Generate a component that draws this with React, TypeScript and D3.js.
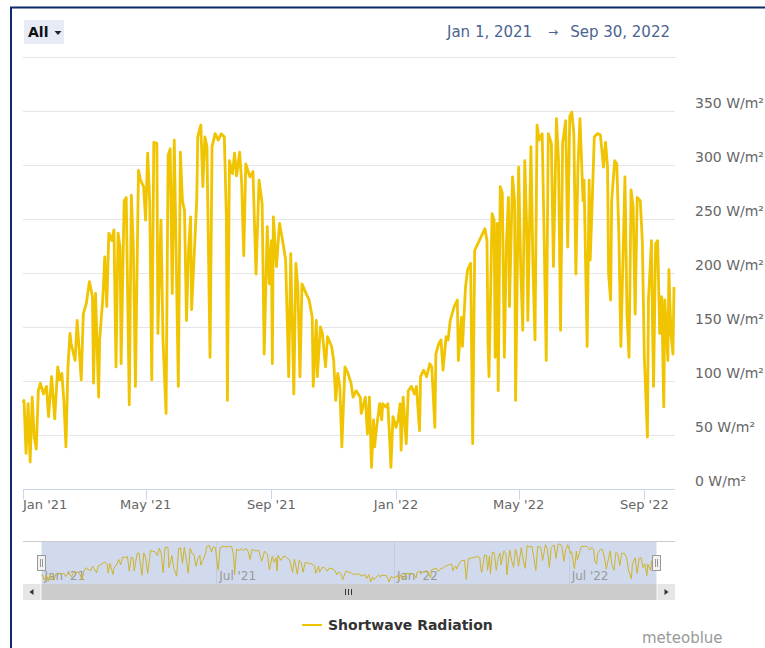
import React from "react";
import * as d3 from "d3";

// ---- data (days since Jan 1, 2021 and daily shortwave radiation, W/m²) ----
const startDate = new Date(2021, 0, 1);
const endDate = new Date(2022, 8, 30);

const dayIndex = [
  0, 1, 3, 5, 7, 9, 11, 13, 15, 17, 20, 23, 25, 28, 31, 34, 36, 38, 40, 42, 44, 46, 47, 51, 53, 57, 59, 62, 65, 68, 69,
  71, 74, 75, 78, 80, 82, 84, 87, 89, 91, 93, 95, 96, 99, 101, 104, 106, 108, 110, 113, 115, 118, 120, 122, 124, 126,
  128, 131, 132, 135, 137, 140, 142, 144, 146, 148, 150, 152, 154, 156, 158, 160, 162, 164, 165, 167, 170, 171, 174,
  176, 178, 180, 183, 185, 188, 191, 194, 197, 199, 200, 202, 205, 207,
  209, 212, 214, 216, 218, 222, 225, 228, 231, 234, 236, 239, 241, 243, 244, 245, 248, 251, 254, 257, 260, 262, 265,
  267, 269, 271, 273, 277, 280, 283, 284, 287, 288, 291, 293, 296, 298, 302, 304, 306, 308, 310, 312, 315, 318, 321,
  323, 326, 330, 331, 335, 337, 339, 341, 343, 344, 346, 349, 351, 352, 355, 357, 359, 360, 362, 365, 367, 369, 370,
  372, 375, 377, 380, 383, 385, 388, 389, 392, 395, 398, 400, 403, 404, 407, 409, 411, 414, 416, 418,
  422, 425, 426, 429, 430, 433, 435, 438, 440, 442, 445, 448, 452, 454, 455, 456, 459, 461, 462, 464, 465, 467, 469,
  471, 473, 475, 476, 479, 481, 482, 485, 487, 489, 491, 493, 494, 497, 499, 501, 503, 505, 508, 510, 512, 514, 517,
  519, 522, 524, 526, 528, 531, 533, 535, 537, 539, 541, 543, 545, 548, 549, 552, 554, 555, 557, 559, 562, 565, 568,
  570, 572, 573, 575, 576, 579, 581, 583, 585, 589, 591, 593, 595, 597, 599, 601, 604, 606, 608, 611, 612, 615, 616,
  617, 619, 621, 623, 625, 627, 628, 631, 632, 634, 636, 637,
];

const radiation = [
  80, 82, 33, 79, 25, 85, 48, 37, 91, 98, 88, 95, 67, 104, 65, 113, 101, 107, 82, 39, 113, 144, 135, 119, 156, 101, 162,
  172, 192, 178, 98, 181, 85, 138, 175, 215, 169, 237, 230, 240, 113, 237, 224, 116, 267, 270, 78, 272, 224, 95, 295,
  286, 280, 249, 311, 267, 101, 321, 320, 144, 249, 138, 70, 309, 315, 181, 323, 209, 95, 312, 267, 258, 156, 221, 252,
  166, 206, 267, 326, 337, 280, 326, 317, 122, 317, 329, 323, 329, 326, 252, 82, 304, 292, 311,
  290, 312, 283, 216, 301, 289, 294, 199, 286, 264, 125, 243, 190, 230, 116, 252, 206, 246, 230, 212, 104, 218, 88,
  209, 187, 104, 190, 181, 175, 159, 95, 156, 104, 150, 144, 113, 141, 132, 119, 82, 107, 95, 39, 113, 107, 98, 85, 91,
  85, 70, 85, 51, 85, 20, 64, 39, 57, 79, 64, 79, 76, 79, 42, 20, 67, 57, 64, 79, 36, 85, 42, 91, 95, 88, 95, 54, 104,
  110, 104, 116, 113, 57, 125, 135, 138, 110, 141, 138, 156,
  169, 175, 119, 159, 132, 187, 203, 209, 42, 221, 227, 233, 241, 230, 135, 104, 255, 249, 122, 246, 91, 280, 274, 122,
  227, 270, 169, 289, 267, 82, 298, 206, 147, 304, 237, 156, 317, 206, 138, 337, 323, 329, 230, 119, 329, 320, 206, 343,
  304, 147, 320, 341, 224, 345, 349, 329, 199, 298, 343, 267, 286, 132, 286, 212, 267, 326, 329, 328, 298, 321, 298,
  199, 175, 267, 304, 301, 237, 132, 289, 162, 122, 277, 261, 162, 270, 267, 230, 122, 48, 175, 230, 150, 95, 227, 230,
  144, 178, 76, 175, 119, 203, 144, 125, 187,
];

const yTicks = [0, 50, 100, 150, 200, 250, 300, 350];
const xTickDates = [
  new Date(2021, 0, 1), new Date(2021, 4, 1), new Date(2021, 8, 1),
  new Date(2022, 0, 1), new Date(2022, 4, 1), new Date(2022, 8, 1),
];
const xTickLabels = ["Jan '21", "May '21", "Sep '21", "Jan '22", "May '22", "Sep '22"];
const navTickDates = [new Date(2021, 0, 1), new Date(2021, 6, 1), new Date(2022, 0, 1), new Date(2022, 6, 1)];
const navTickLabels = ["Jan '21", "Jul '21", "Jan '22", "Jul '22"];
const seriesName = "Shortwave Radiation";
const rangeStart = "Jan 1, 2021";
const rangeEnd = "Sep 30, 2022";

const FONT = "'DejaVu Sans', Verdana, sans-serif";
const LINE_COLOR = "#f0c400";

export default function App() {
  const points = dayIndex.map((d, i) => ({ date: d3.timeDay.offset(startDate, d), value: radiation[i] }));

  const x = d3.scaleTime().domain([startDate, endDate]).range([23, 674]);
  const y = d3.scaleLinear().domain([0, 350]).range([489, 111]);

  const nx = d3.scaleTime().domain([startDate, endDate]).range([41.5, 656.5]);
  const ny = d3.scaleLinear().domain([d3.min(radiation) as number, d3.max(radiation) as number]).range([582, 544]);

  const line = d3.line<{ date: Date; value: number }>().x((p) => x(p.date)).y((p) => y(p.value));
  const navLine = d3.line<{ date: Date; value: number }>().x((p) => nx(p.date)).y((p) => ny(p.value));

  return (
    <div style={{ position: "absolute", left: 0, top: 0 }}>
      <svg width={765} height={648} style={{ display: "block", fontFamily: FONT }}>
        <rect x={0} y={0} width={765} height={648} fill="#ffffff" />

        {/* header */}
        <rect x={24} y={20} width={40} height={24} rx={2} fill="#e6ebf5" />
        <text x={28} y={37} fontSize={14} fontWeight="bold" fill="#111">All</text>
        <path d="M54.5,31 L61.5,31 L58,35 Z" fill="#222" />
        <text x={447} y={36.5} fontSize={15} fill="#4a6491">{rangeStart}</text>
        <text x={553} y={36} fontSize={12} fill="#4a6491" textAnchor="middle">{"\u2192"}</text>
        <text x={670} y={36.5} fontSize={15} fill="#4a6491" textAnchor="end">{rangeEnd}</text>
        <line x1={23} x2={676} y1={57.5} y2={57.5} stroke="#e6e6e6" />

        {/* grid */}
        {yTicks.filter((t) => t > 0).map((t) => (
          <line key={t} x1={23} x2={675} y1={Math.round(y(t)) + 0.5} y2={Math.round(y(t)) + 0.5} stroke="#e6e6e6" />
        ))}
        {yTicks.map((t) => (
          <text key={"yl" + t} x={695} y={y(t) - 3.5} fontSize={14} fill="#666">
            {t + " W/m\u00b2"}
          </text>
        ))}

        {/* x axis */}
        <line x1={23} x2={675} y1={489.5} y2={489.5} stroke="#ccd6eb" />
        {xTickDates.map((d, i) => {
          const px = Math.round(x(d)) + 0.5;
          return (
            <g key={"xt" + i}>
              <line x1={px} x2={px} y1={489.5} y2={499.5} stroke="#ccd6eb" />
              <text x={i === 0 ? 23 : x(d)} y={509} fontSize={13} fill="#666" textAnchor={i === 0 ? "start" : "middle"}>
                {xTickLabels[i]}
              </text>
            </g>
          );
        })}

        {/* series */}
        <path d={line(points) || ""} fill="none" stroke={LINE_COLOR} strokeWidth={2.8} strokeLinejoin="round" />

        {/* navigator */}
        <rect x={nx(startDate)} y={541} width={nx(endDate) - nx(startDate)} height={43} fill="rgba(102,133,194,0.3)" />
        {navTickDates.map((d, i) => (
          <g key={"nt" + i}>
            {i > 0 && (
              <line x1={Math.round(nx(d)) + 0.5} x2={Math.round(nx(d)) + 0.5} y1={541} y2={584} stroke="#c4cbdb" />
            )}
            <text x={nx(d) + 3} y={580} fontSize={12} fill="#999">{navTickLabels[i]}</text>
          </g>
        ))}
        <path d={navLine(points) || ""} fill="none" stroke="#cdb42c" strokeWidth={1} />
        <line x1={23} x2={675} y1={541.5} y2={541.5} stroke="#cccccc" />
        {[nx(startDate), nx(endDate)].map((hx, i) => (
          <g key={"h" + i}>
            <rect x={Math.round(hx) - 4.5} y={555.5} width={8} height={15} fill="#f2f2f2" stroke="#999" />
            <line x1={Math.round(hx) - 1.5} x2={Math.round(hx) - 1.5} y1={559} y2={567} stroke="#999" />
            <line x1={Math.round(hx) + 0.5} x2={Math.round(hx) + 0.5} y1={559} y2={567} stroke="#999" />
          </g>
        ))}

        {/* scrollbar */}
        <rect x={23} y={584} width={652} height={16} fill="#f2f2f2" />
        <rect x={nx(startDate)} y={584} width={nx(endDate) - nx(startDate)} height={16} fill="#cccccc" />
        <rect x={23} y={584} width={17} height={16} fill="#e6e6e6" />
        <rect x={658} y={584} width={17} height={16} fill="#e6e6e6" />
        <path d="M33.5,589 L29.5,592 L33.5,595 Z" fill="#333" />
        <path d="M664.5,589 L668.5,592 L664.5,595 Z" fill="#333" />
        {[-3, 0, 3].map((o) => (
          <line key={"g" + o} x1={348.5 + o} x2={348.5 + o} y1={589} y2={595} stroke="#333" />
        ))}

        {/* legend */}
        <line x1={302} x2={322} y1={625} y2={625} stroke={LINE_COLOR} strokeWidth={2} />
        <text x={328} y={630} fontSize={14} fontWeight="bold" fill="#333">{seriesName}</text>
        <text x={642} y={643} fontSize={15} fill="#999">meteoblue</text>

        {/* frame */}
        <path d="M11,648 V7.5 H765" fill="none" stroke="#0d2b6b" strokeWidth={2} />
      </svg>
    </div>
  );
}
